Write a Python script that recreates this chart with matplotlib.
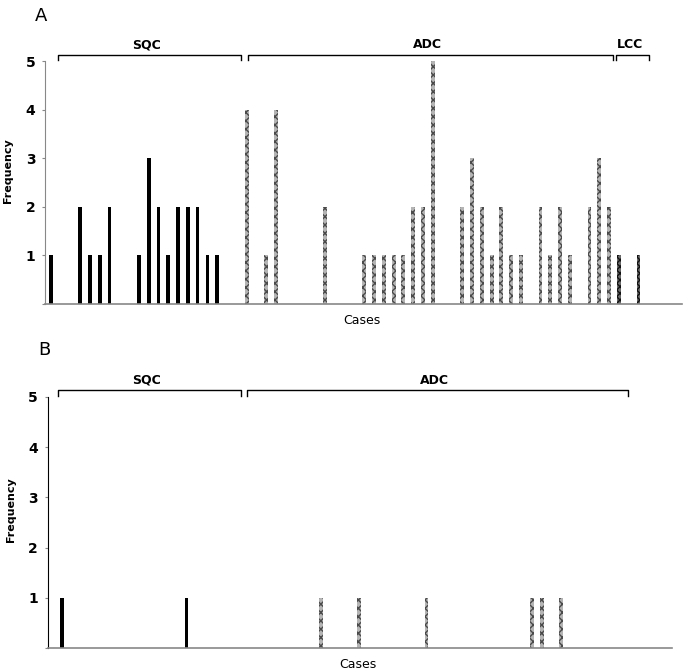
import matplotlib
matplotlib.use("Agg")
import matplotlib.pyplot as plt

plt.rcParams["font.family"] = ["DejaVu Sans"]

# panel A: case index -> frequency
a_sqc_cases = [0, 3, 4, 5, 6, 9, 10, 11, 12, 13, 14, 15, 16, 17]
a_sqc_freq = [1, 2, 1, 1, 2, 1, 3, 2, 1, 2, 2, 2, 1, 1]
a_adc_cases = [20, 22, 23, 28, 32, 33, 34, 35, 36, 37, 38, 39, 42, 43, 44,
               45, 46, 47, 48, 50, 51, 52, 53, 55, 56, 57]
a_adc_freq = [4, 1, 4, 2, 1, 1, 1, 1, 1, 2, 2, 5, 2, 3, 2,
              1, 2, 1, 1, 2, 1, 2, 1, 2, 3, 2]
a_lcc_cases = [58, 60]
a_lcc_freq = [1, 1]

# panel B
b_sqc_cases = [0, 13]
b_sqc_freq = [1, 1]
b_adc_cases = [27, 31, 38, 49, 50, 52]
b_adc_freq = [1, 1, 1, 1, 1, 1]

# group brackets: (label, start, end)
a_groups = [("SQC", 0.75, 19.4), ("ADC", 20.15, 57.4), ("LCC", 57.7, 61.1)]
b_groups = [("SQC", -0.4, 18.65), ("ADC", 19.35, 59.0)]

yticks = [1, 2, 3, 4, 5]


def draw_panel(ax, bars, groups, xlim, letter, spine_color):
    for cases, freq, kind in bars:
        if kind == "sqc":
            ax.bar(cases, freq, width=0.38, color="black", linewidth=0)
        elif kind == "adc":
            ax.bar(cases, freq, width=0.4, color="#b4b4b4", edgecolor="#4a4a4a",
                   hatch="xxxx", linewidth=0)
        else:
            ax.bar(cases, freq, width=0.4, color="#6a6a6a", edgecolor="#111111",
                   hatch="xxxxx", linewidth=0)

    ax.set_xlim(*xlim)
    ax.set_ylim(0, 5)
    ax.set_xticks([])
    ax.set_yticks([0] + yticks)
    ax.set_yticklabels([""] + [str(t) for t in yticks], fontsize=10, fontweight="bold")
    ax.tick_params(axis="y", length=2, width=0.8, color="#888888", pad=5)
    for s in ["top", "right"]:
        ax.spines[s].set_visible(False)
    ax.spines["left"].set_color(spine_color)
    ax.spines["bottom"].set_color("#888888")
    ax.spines["bottom"].set_linewidth(1.2)

    for label, x0, x1 in groups:
        ax.plot([x0, x0, x1, x1], [5.02, 5.13, 5.13, 5.02], color="black",
                lw=1.0, clip_on=False)
        ax.text((x0 + x1) / 2 - 0.3, 5.2, label, ha="center", va="bottom",
                fontsize=9, fontweight="bold", clip_on=False)

    ax.text(0.497, -0.04, "Cases", transform=ax.transAxes, ha="center",
            va="top", fontsize=9)
    ax.text(-0.058, 0.55, "Frequency", transform=ax.transAxes, rotation=90,
            ha="center", va="center", fontsize=8, fontweight="bold")
    ax.text(-0.006, 1.15, letter, transform=ax.transAxes, ha="center",
            va="bottom", fontsize=13)


fig = plt.figure(figsize=(6.88, 6.72), dpi=100)
ax_a = fig.add_axes([0.0654, 0.5476, 0.9256, 0.3616])
ax_b = fig.add_axes([0.0693, 0.0353, 0.907, 0.3744])

draw_panel(ax_a,
           [(a_sqc_cases, a_sqc_freq, "sqc"),
            (a_adc_cases, a_adc_freq, "adc"),
            (a_lcc_cases, a_lcc_freq, "lcc")],
           a_groups, (-0.58, 64.42), "A", "#888888")
draw_panel(ax_b,
           [(b_sqc_cases, b_sqc_freq, "sqc"),
            (b_adc_cases, b_adc_freq, "adc")],
           b_groups, (-1.46, 63.54), "B", "black")

fig.savefig("out.png", dpi=100)
